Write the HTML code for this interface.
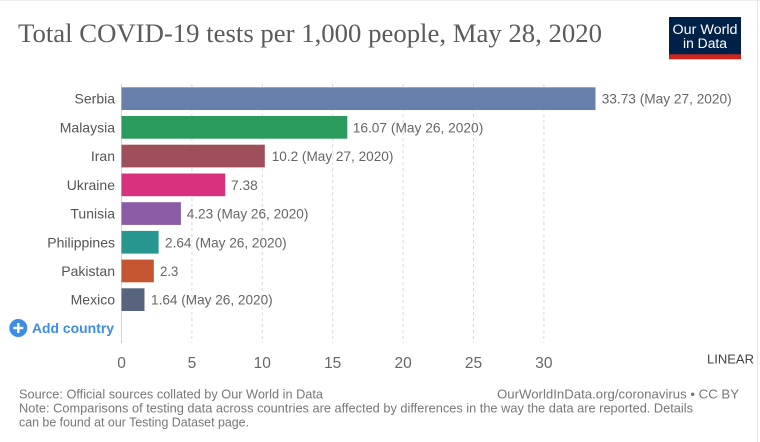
<!DOCTYPE html>
<html>
<head>
<meta charset="utf-8">
<style>
  html, body { margin: 0; padding: 0; background: #fff; }
  svg { display: block; }
  .lbl { font-family: "Liberation Sans", Arial, sans-serif; font-size: 14px; fill: #555; }
  .val { font-family: "Liberation Sans", Arial, sans-serif; font-size: 14px; fill: #666; }
  .tick { font-family: "Liberation Sans", Arial, sans-serif; font-size: 15.5px; fill: #666; }
  .foot { font-family: "Liberation Sans", Arial, sans-serif; font-size: 12.5px; fill: #777; }
</style>
</head>
<body>
<svg width="760" height="442" viewBox="0 0 760 442" xmlns="http://www.w3.org/2000/svg">
  <rect x="0" y="0" width="760" height="442" fill="#fff"/>
  <line x1="0" y1="0.5" x2="760" y2="0.5" stroke="#ececec" stroke-width="1"/>
  <line x1="757.5" y1="0" x2="757.5" y2="442" stroke="#e6e6e6" stroke-width="1"/>

  <!-- Title -->
  <text x="18" y="42" font-family="'Liberation Serif', serif" font-size="26" fill="#5b5b5b" textLength="584" lengthAdjust="spacingAndGlyphs">Total COVID-19 tests per 1,000 people, May 28, 2020</text>

  <!-- Logo -->
  <rect x="669" y="17" width="72" height="37.5" fill="#002147"/>
  <rect x="669" y="54.3" width="72" height="5" fill="#ce261e"/>
  <text x="705" y="34" text-anchor="middle" font-family="'Liberation Sans', sans-serif" font-size="13.5" fill="#fff" textLength="65" lengthAdjust="spacingAndGlyphs">Our World</text>
  <text x="705" y="48" text-anchor="middle" font-family="'Liberation Sans', sans-serif" font-size="13.5" fill="#fff" textLength="44" lengthAdjust="spacingAndGlyphs">in Data</text>

  <!-- Gridlines -->
  <g stroke="#dadada" stroke-width="1" stroke-dasharray="3,3">
    <line x1="191.9" y1="84" x2="191.9" y2="343"/>
    <line x1="262.3" y1="84" x2="262.3" y2="343"/>
    <line x1="332.7" y1="84" x2="332.7" y2="343"/>
    <line x1="403.1" y1="84" x2="403.1" y2="343"/>
    <line x1="473.5" y1="84" x2="473.5" y2="343"/>
    <line x1="543.9" y1="84" x2="543.9" y2="343"/>
  </g>
  <line x1="121.5" y1="84" x2="121.5" y2="343" stroke="#d6d0dc" stroke-width="1"/>

  <!-- Bars -->
  <rect x="121.5" y="87.3" width="474" height="22.7" fill="#6680ab"/>
  <rect x="121.5" y="116.0" width="225.8" height="22.7" fill="#2a9a5d"/>
  <rect x="121.5" y="144.7" width="143.3" height="22.7" fill="#9e4f59"/>
  <rect x="121.5" y="173.5" width="103.7" height="22.7" fill="#d8327f"/>
  <rect x="121.5" y="202.2" width="59.4" height="22.7" fill="#8a5ca6"/>
  <rect x="121.5" y="230.9" width="37.1" height="22.7" fill="#27968e"/>
  <rect x="121.5" y="259.6" width="32.3" height="22.7" fill="#c5552f"/>
  <rect x="121.5" y="288.3" width="23.0" height="22.7" fill="#57647e"/>

  <!-- Country labels -->
  <g class="lbl" text-anchor="end">
    <text x="115" y="103.7">Serbia</text>
    <text x="115" y="132.4">Malaysia</text>
    <text x="115" y="161.1">Iran</text>
    <text x="115" y="189.8">Ukraine</text>
    <text x="115" y="218.5">Tunisia</text>
    <text x="115" y="247.3">Philippines</text>
    <text x="115" y="276.0">Pakistan</text>
    <text x="115" y="304.7">Mexico</text>
  </g>

  <!-- Value labels -->
  <g class="val">
    <text x="601.7" y="103.7" textLength="130" lengthAdjust="spacingAndGlyphs">33.73 (May 27, 2020)</text>
    <text x="352.7" y="132.4" textLength="130.6" lengthAdjust="spacingAndGlyphs">16.07 (May 26, 2020)</text>
    <text x="271.7" y="161.1" textLength="121.7" lengthAdjust="spacingAndGlyphs">10.2 (May 27, 2020)</text>
    <text x="231" y="189.8" textLength="26.7" lengthAdjust="spacingAndGlyphs">7.38</text>
    <text x="186.7" y="218.5" textLength="121.7" lengthAdjust="spacingAndGlyphs">4.23 (May 26, 2020)</text>
    <text x="165" y="247.3" textLength="121.7" lengthAdjust="spacingAndGlyphs">2.64 (May 26, 2020)</text>
    <text x="160" y="276.0" textLength="18.3" lengthAdjust="spacingAndGlyphs">2.3</text>
    <text x="151" y="304.7" textLength="121.7" lengthAdjust="spacingAndGlyphs">1.64 (May 26, 2020)</text>
  </g>

  <!-- Add country -->
  <circle cx="18.3" cy="328" r="9" fill="#3d8de5"/>
  <rect x="13.3" y="326.8" width="10" height="2.4" fill="#fff"/>
  <rect x="17.1" y="323" width="2.4" height="10" fill="#fff"/>
  <text x="32" y="333" font-family="'Liberation Sans', sans-serif" font-size="14" font-weight="bold" fill="#3d8de5" textLength="82" lengthAdjust="spacingAndGlyphs">Add country</text>

  <!-- Axis ticks -->
  <g class="tick" text-anchor="middle">
    <text x="121.5" y="368">0</text>
    <text x="191.9" y="368">5</text>
    <text x="262.3" y="368">10</text>
    <text x="332.7" y="368">15</text>
    <text x="403.1" y="368">20</text>
    <text x="473.5" y="368">25</text>
    <text x="543.9" y="368">30</text>
  </g>
  <text x="707" y="363.7" font-family="'Liberation Sans', sans-serif" font-size="13" fill="#444" textLength="47" lengthAdjust="spacingAndGlyphs">LINEAR</text>

  <!-- Footer -->
  <g class="foot">
    <text x="19" y="398.5" textLength="304" lengthAdjust="spacingAndGlyphs">Source: Official sources collated by Our World in Data</text>
    <text x="497" y="398.5" textLength="242" lengthAdjust="spacingAndGlyphs">OurWorldInData.org/coronavirus • CC BY</text>
    <text x="19" y="412.5" textLength="674" lengthAdjust="spacingAndGlyphs">Note: Comparisons of testing data across countries are affected by differences in the way the data are reported. Details</text>
    <text x="19" y="426.5" textLength="230" lengthAdjust="spacingAndGlyphs">can be found at our Testing Dataset page.</text>
  </g>
</svg>
</body>
</html>
